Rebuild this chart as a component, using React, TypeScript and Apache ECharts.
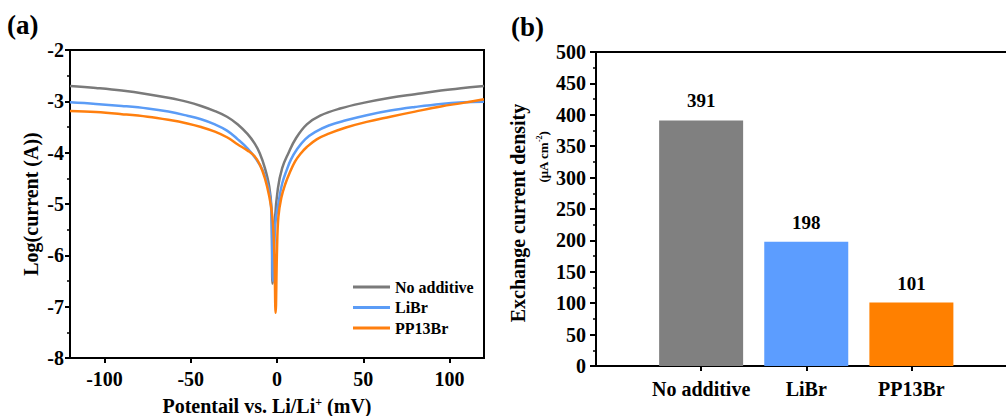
import React, { useEffect, useRef } from "react";
import * as echarts from "echarts";

const FONT = '"Liberation Serif", "Times New Roman", serif';

// Panel (a): Tafel curves [potential (mV), log(current (A))]
const noAdditiveCurve: [number, number][] = [
  [-120, -2.70], [-105, -2.74], [-90, -2.79], [-75, -2.86], [-63, -2.93], [-52, -3.01],
  [-44, -3.09], [-36, -3.19], [-29, -3.30], [-22.7, -3.45], [-17, -3.64], [-13, -3.82],
  [-10, -4.01], [-7, -4.3], [-4.5, -4.66], [-3.2, -5.1], [-2.6, -6.55], [-1.2, -5.3],
  [0.5, -4.7], [3, -4.3], [6.6, -4.01], [11, -3.72], [17.3, -3.45], [25, -3.28],
  [36.6, -3.14], [50, -3.03], [65.7, -2.93], [80, -2.86], [95, -2.79], [108, -2.74], [120, -2.70],
];
const libeCurve: [number, number][] = [
  [-120, -3.02], [-105, -3.05], [-90, -3.09], [-75, -3.14], [-63, -3.20], [-52, -3.28],
  [-44, -3.35], [-36, -3.45], [-29, -3.57], [-22.7, -3.74], [-17, -3.92], [-12, -4.13],
  [-8, -4.36], [-5.2, -4.66], [-3.5, -5.0], [-2.3, -6.5], [-1.0, -5.4], [0.8, -4.99],
  [3, -4.6], [5.6, -4.34], [8, -4.14], [11.5, -3.94], [16.3, -3.74], [22, -3.6],
  [30, -3.47], [40, -3.37], [52, -3.27], [65.7, -3.18], [80, -3.11], [95, -3.05],
  [108, -3.02], [120, -3.01],
];
const pp13brCurve: [number, number][] = [
  [-120, -3.19], [-105, -3.21], [-90, -3.25], [-75, -3.30], [-63, -3.36], [-52, -3.43],
  [-44, -3.50], [-36, -3.59], [-29, -3.70], [-22.7, -3.84], [-17, -3.96], [-13, -4.07],
  [-10, -4.23], [-7, -4.5], [-4.5, -4.85], [-2.7, -5.25], [-1.6, -5.9], [-0.8, -7.12],
  [0, -5.9], [0.8, -5.25], [2.5, -4.88], [4.7, -4.62], [7.6, -4.37], [10.5, -4.17],
  [13.4, -4.03], [17.3, -3.89], [23, -3.74], [30, -3.63], [40, -3.51], [52, -3.40],
  [65.7, -3.30], [80, -3.20], [95, -3.10], [108, -3.03], [120, -2.96],
];
const curveNames = ["No additive", "LiBr", "PP13Br"];
const lineColors = ["#7a7a7a", "#5b9cf6", "#ff7f0e"];
const potentialTicks = [-100, -50, 0, 50, 100];

// Panel (b): exchange current density (μA cm^-2)
const categories = ["No additive", "LiBr", "PP13Br"];
const exchangeCurrent = [391, 198, 101];
const barColors = ["#808080", "#5c9dff", "#ff8000"];
const categoryPositions = [1, 2, 3];

const black = "#000";

export default function App() {
  const ref = useRef<HTMLDivElement>(null);
  useEffect(() => {
    if (!ref.current) return;
    const chart = echarts.init(ref.current, undefined, { renderer: "svg" });
    const tickLabel = { color: black, fontFamily: FONT, fontWeight: "bold" as const, fontSize: 20 };
    const curves = [noAdditiveCurve, libeCurve, pp13brCurve];
    const lineOnlyAxis = {
      axisLine: { show: true, onZero: false, lineStyle: { color: black, width: 2 } },
      axisTick: { show: false },
      axisLabel: { show: false },
      splitLine: { show: false },
    };
    chart.setOption({
      animation: false,
      grid: [
        { left: 70, top: 50, width: 414, height: 308, show: true, borderColor: black, borderWidth: 2, backgroundColor: "transparent", outerBoundsMode: "none", containLabel: false },
        { left: 596, top: 52, width: 410, height: 314, show: false, outerBoundsMode: "none", containLabel: false },
      ],
      legend: {
        data: curveNames,
        orient: "vertical",
        left: 348,
        top: 274,
        icon: "rect",
        itemWidth: 37,
        itemHeight: 3,
        itemGap: 4.5,
        textStyle: { color: black, fontFamily: FONT, fontWeight: "bold", fontSize: 16, lineHeight: 16 },
      },
      xAxis: [
        {
          type: "value", gridIndex: 0, min: -120, max: 120,
          axisLine: { onZero: false, lineStyle: { color: black, width: 2 } },
          axisTick: { length: 5, lineStyle: { color: black, width: 2 }, customValues: potentialTicks },
          axisLabel: { ...tickLabel, margin: 11, customValues: potentialTicks },
          splitLine: { show: false },
        },
        {
          type: "value", gridIndex: 1, min: 0, max: 3.9,
          axisLine: { onZero: false, lineStyle: { color: black, width: 2 } },
          axisTick: { length: 5, lineStyle: { color: black, width: 2 }, customValues: categoryPositions },
          axisLabel: {
            ...tickLabel, margin: 13, customValues: categoryPositions,
            formatter: (v: number) => categories[Math.round(v) - 1] ?? "",
          },
          splitLine: { show: false },
        },
        { type: "value", gridIndex: 1, position: "top", min: 0, max: 3.9, ...lineOnlyAxis },
      ],
      yAxis: [
        {
          type: "value", gridIndex: 0, min: -8, max: -2, interval: 1,
          axisLine: { show: true, onZero: false, lineStyle: { color: black, width: 2 } },
          axisTick: { show: true, length: 5, lineStyle: { color: black, width: 2 } },
          minorTick: { show: true, splitNumber: 2, length: 3, lineStyle: { color: black, width: 1.5 } },
          axisLabel: { ...tickLabel, margin: 6 },
          splitLine: { show: false },
        },
        {
          type: "value", gridIndex: 1, min: 0, max: 500, interval: 50,
          axisLine: { show: true, onZero: false, lineStyle: { color: black, width: 2 } },
          axisTick: { show: true, length: 6, lineStyle: { color: black, width: 2 } },
          minorTick: { show: true, splitNumber: 2, length: 3, lineStyle: { color: black, width: 1.5 } },
          axisLabel: { ...tickLabel, margin: 10 },
          splitLine: { show: false },
        },
      ],
      series: [
        ...curves.map((c, i) => ({
          type: "line",
          name: curveNames[i],
          xAxisIndex: 0,
          yAxisIndex: 0,
          data: c,
          showSymbol: false,
          smooth: 0.4,
          color: lineColors[i],
          lineStyle: { color: lineColors[i], width: 2.5 },
          z: 2 + i,
        })),
        {
          type: "bar",
          xAxisIndex: 1,
          yAxisIndex: 1,
          barWidth: 84,
          data: exchangeCurrent.map((v, i) => ({ value: [categoryPositions[i], v], itemStyle: { color: barColors[i] } })),
          label: {
            show: true, position: "top", distance: 10, color: black,
            fontFamily: FONT, fontWeight: "bold", fontSize: 19,
            formatter: (p: any) => String(p.value[1]),
          },
        },
      ],
      graphic: [
        { type: "text", x: 7, y: 25, style: { text: "(a)", fill: black, font: `bold 27px ${FONT}`, align: "left", verticalAlign: "middle" } },
        { type: "text", x: 511, y: 27, style: { text: "(b)", fill: black, font: `bold 27px ${FONT}`, align: "left", verticalAlign: "middle" } },
        {
          type: "text", x: 31, y: 204, rotation: Math.PI / 2,
          style: { text: "Log(current (A))", fill: black, font: `bold 20px ${FONT}`, align: "center", verticalAlign: "middle" },
        },
        {
          type: "text", x: 267, y: 406,
          style: {
            text: "{t|Potentail vs. Li/Li}{s|+}{t| (mV)}",
            align: "center", verticalAlign: "middle",
            rich: {
              t: { fill: black, fontFamily: FONT, fontWeight: "bold", fontSize: 20, lineHeight: 20 },
              s: { fill: black, fontFamily: FONT, fontWeight: "bold", fontSize: 12, lineHeight: 12, verticalAlign: "top" },
            },
          },
        },
        {
          type: "text", x: 518, y: 213, rotation: Math.PI / 2,
          style: { text: "Exchange current density", fill: black, font: `bold 20px ${FONT}`, align: "center", verticalAlign: "middle" },
        },
        {
          type: "text", x: 543, y: 157, rotation: Math.PI / 2,
          style: {
            text: "{t|(μA cm}{s|-2}{t|)}",
            align: "center", verticalAlign: "middle",
            rich: {
              t: { fill: black, fontFamily: FONT, fontWeight: "bold", fontSize: 13, lineHeight: 15 },
              s: { fill: black, fontFamily: FONT, fontWeight: "bold", fontSize: 8, lineHeight: 8, verticalAlign: "top" },
            },
          },
        },
      ],
    });
    return () => chart.dispose();
  }, []);
  return <div ref={ref} style={{ position: "absolute", left: 0, top: 0, width: 1006, height: 416, background: "#fff" }} />;
}
